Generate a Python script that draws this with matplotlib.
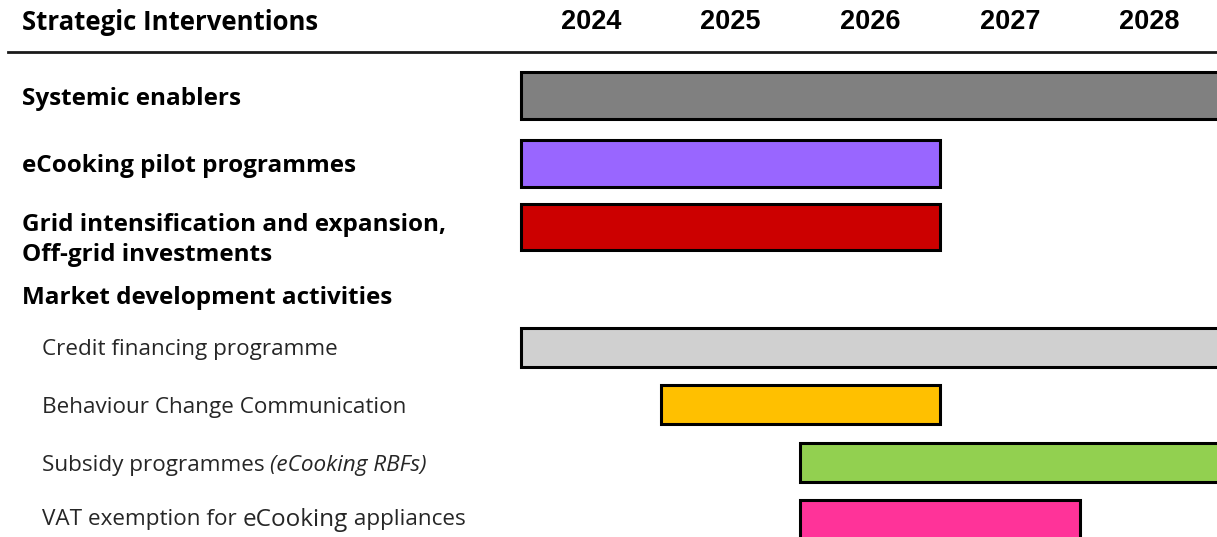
import matplotlib.pyplot as plt

# Timeline of interventions: start year (inclusive) and end year (exclusive)
labels = [
    "Systemic enablers",
    "eCooking pilot programmes",
    "Grid intensification and expansion,\nOff-grid investments",
    "Credit financing programme",
    "Behaviour Change Communication",
    "Subsidy programmes",
    "VAT exemption for eCooking appliances",
]
starts = [2024, 2024, 2024, 2024, 2025, 2026, 2026]
ends = [2029, 2027, 2027, 2029, 2027, 2029, 2028]
colors = ["#808080", "#9966FF", "#CC0000", "#D0D0D0", "#FFC000", "#92D050", "#FF3399"]
years = [2024, 2025, 2026, 2027, 2028]

# layout (pixel rows, top-down)
bar_y = [95, 163, 227, 347, 404, 462, 519]
bar_h = [47, 47, 46, 39, 39, 39, 39]
label_y = [99, 166, 240, 298, 350, 407, 465, 520]

W, H = 1217, 537
fig = plt.figure(figsize=(W / 100, H / 100), dpi=100)
ax = fig.add_axes([0, 0, 1, 1])
px_per_year = 139.7
x0 = 2024 - 521 / px_per_year
x1 = 2024 + (W - 521) / px_per_year
ax.set_xlim(x0, x1)
ax.set_ylim(H, 0)
ax.axis("off")

label_font = ["Open Sans", "DejaVu Sans"]

for s, e, c, y, h in zip(starts, ends, colors, bar_y, bar_h):
    ax.barh(y, e - s, left=s, height=h, color=c, edgecolor="black", linewidth=2.2)

# header
ax.text(x0 + 22 / px_per_year, 22, "Strategic Interventions", fontsize=18.5,
        fontweight="bold", family=label_font, va="center", ha="left")
for yr in years:
    ax.text(yr + 0.5, 22, str(yr), fontsize=19.5, fontweight="bold",
            family=["Liberation Sans"], va="center", ha="center")
ax.plot([x0 + 8 / px_per_year, x1], [52, 52], color="#1a1a1a", linewidth=2)

fig.canvas.draw()
renderer = fig.canvas.get_renderer()


def draw_runs(x_px, y, runs):
    # consecutive text pieces with their own style
    x = x_px
    for txt, kw in runs:
        t = ax.text(x0 + x / px_per_year, y, txt, va="center", ha="left",
                    family=label_font, color="#262626", **kw)
        bb = t.get_window_extent(renderer=renderer)
        x += bb.width


main_labels = labels[:3] + ["Market development activities"]
for lab, y in zip(main_labels, label_y[:4]):
    ax.text(x0 + 22 / px_per_year, y, lab, fontsize=17.5, fontweight="bold",
            family=label_font, va="center", ha="left", linespacing=1.3)

sub_size = 16.2
for lab, y in zip(labels[3:], label_y[4:]):
    if lab.startswith("Subsidy"):
        draw_runs(42, y, [(lab + " ", dict(fontsize=sub_size)),
                          ("(eCooking RBFs)", dict(fontsize=sub_size, style="italic"))])
    elif lab.startswith("VAT"):
        draw_runs(42, y, [("VAT exemption for ", dict(fontsize=sub_size)),
                          ("eCooking", dict(fontsize=sub_size + 1.3)),
                          (" appliances", dict(fontsize=sub_size))])
    else:
        draw_runs(42, y, [(lab, dict(fontsize=sub_size))])

fig.savefig("out.png", dpi=100)
